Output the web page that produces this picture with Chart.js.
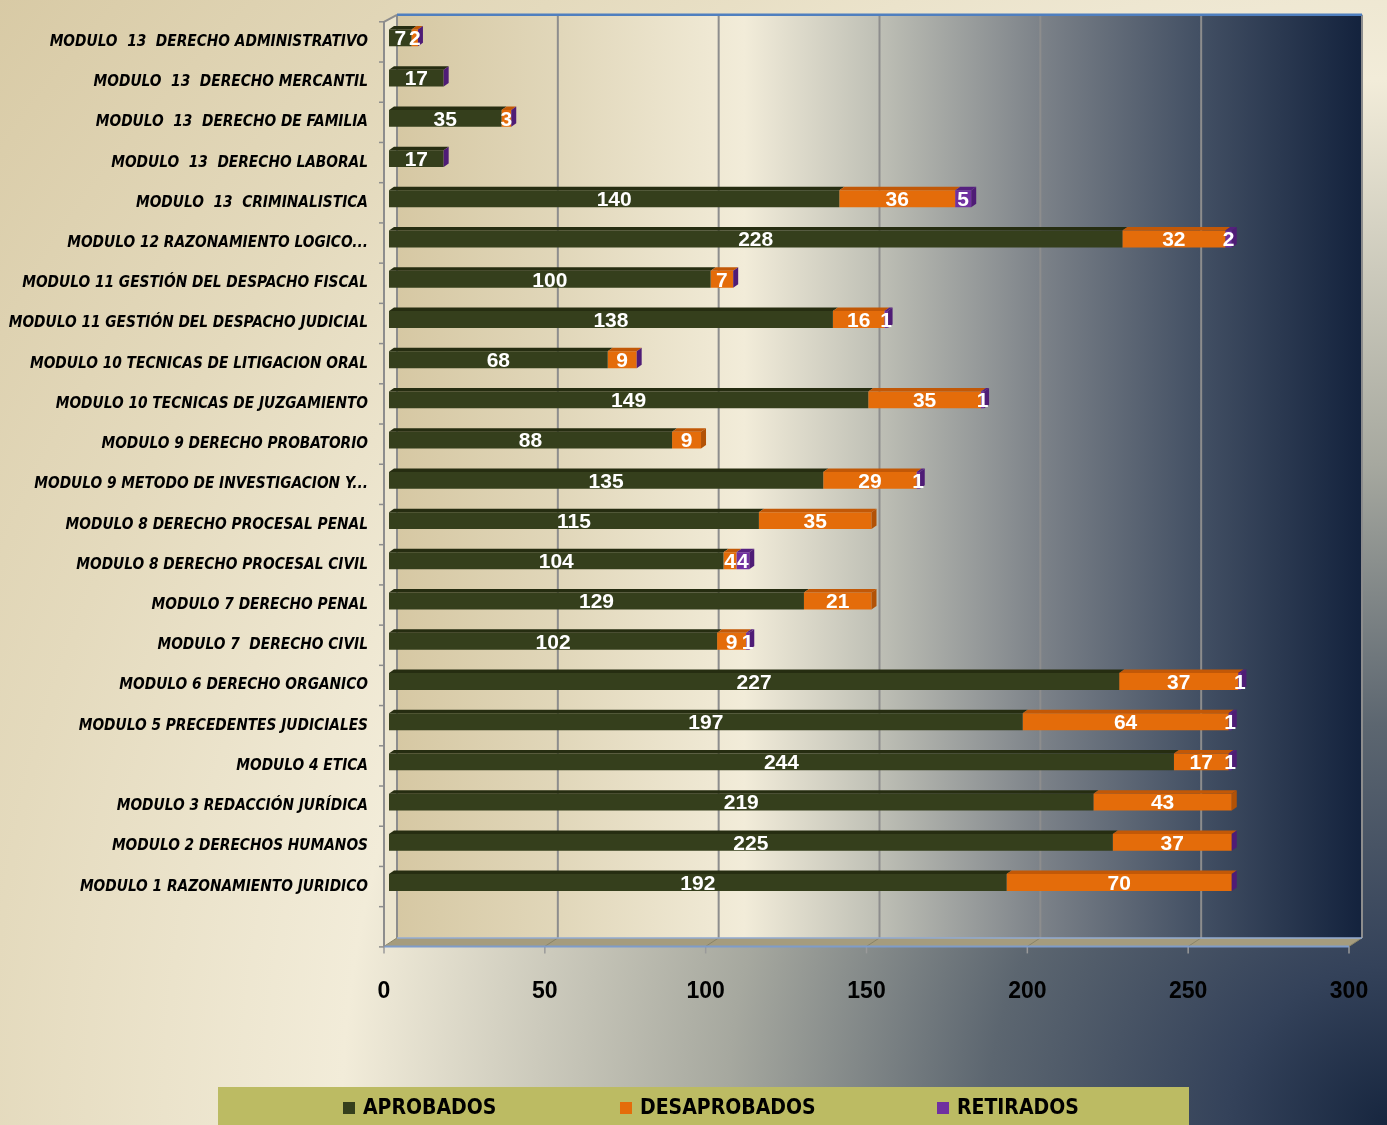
<!DOCTYPE html>
<html><head><meta charset="utf-8">
<script src="https://cdn.jsdelivr.net/npm/chart.js@4/dist/chart.umd.min.js"></script>
<style>
html,body{margin:0;padding:0;}
body{width:1387px;height:1125px;overflow:hidden;background-color:#d8caa5;
background-image:radial-gradient(circle at 100% 100%,#17263f 0px,#34425a 160px,#5c6670 400px,#a6a89f 660px,#f2ecd9 1045px,#e4dabd 1400px,#d8caa5 1790px);}
#c{display:block;}
</style></head><body>
<canvas id="c" width="1387" height="1125"></canvas>
<script>
const categories = [
  "MODULO  13  DERECHO ADMINISTRATIVO",
  "MODULO  13  DERECHO MERCANTIL",
  "MODULO  13  DERECHO DE FAMILIA",
  "MODULO  13  DERECHO LABORAL",
  "MODULO  13  CRIMINALISTICA",
  "MODULO 12 RAZONAMIENTO LOGICO...",
  "MODULO 11 GESTIÓN DEL DESPACHO FISCAL",
  "MODULO 11 GESTIÓN DEL DESPACHO JUDICIAL",
  "MODULO 10 TECNICAS DE LITIGACION ORAL",
  "MODULO 10 TECNICAS DE JUZGAMIENTO",
  "MODULO 9 DERECHO PROBATORIO",
  "MODULO 9 METODO DE INVESTIGACION Y...",
  "MODULO 8 DERECHO PROCESAL PENAL",
  "MODULO 8 DERECHO PROCESAL CIVIL",
  "MODULO 7 DERECHO PENAL",
  "MODULO 7  DERECHO CIVIL",
  "MODULO 6 DERECHO ORGANICO",
  "MODULO 5 PRECEDENTES JUDICIALES",
  "MODULO 4 ETICA",
  "MODULO 3 REDACCIÓN JURÍDICA",
  "MODULO 2 DERECHOS HUMANOS",
  "MODULO 1 RAZONAMIENTO JURIDICO",
  ""
];
const aprobados    = [7, 17, 35, 17, 140, 228, 100, 138, 68, 149, 88, 135, 115, 104, 129, 102, 227, 197, 244, 219, 225, 192, null];
const desaprobados = [2, null, 3, null, 36, 32, 7, 16, 9, 35, 9, 29, 35, 4, 21, 9, 37, 64, 17, 43, 37, 70, null];
const retirados    = [0, 0, 0, 0, 5, 2, 0, 1, 0, 1, null, 1, null, 4, null, 1, 1, 1, 1, null, 0, 0, null];
const seriesNames  = ["APROBADOS", "DESAPROBADOS", "RETIRADOS"];
const xTickValues  = [0, 50, 100, 150, 200, 250, 300];

const NARROW = "'Liberation Sans Narrow','DejaVu Sans Condensed','Open Sans',sans-serif";
const WIDE = "'Liberation Sans','Arimo','DejaVu Sans',sans-serif";
const frontColors = ['#353f1c', '#e46c0a', '#7030a0'];
const topColors   = ['#262d11', '#c25807', '#56207f'];
const sideColors  = ['#22290f', '#b25206', '#4f1c76'];

const FX = -5, FY = 3.5, BX = 8, BY = -5, DX = 5, DY = 3.5;

const wallPlugin = {
  id: 'wall',
  beforeDraw(chart) {
    const ctx = chart.ctx, a = chart.chartArea, xs = chart.scales.x;
    const L = a.left, R = a.right, T = a.top, B = a.bottom;
    const band = (B - T) / categories.length;
    ctx.save();
    const g = ctx.createLinearGradient(L + BX, 0, R + BX, 0);
    g.addColorStop(0, '#d6c8a3');
    g.addColorStop(0.17, '#e1d7ba');
    g.addColorStop(0.36, '#f2ecd9');
    g.addColorStop(0.5, '#bebfb5');
    g.addColorStop(0.67, '#7b8188');
    g.addColorStop(0.83, '#435064');
    g.addColorStop(1, '#13223d');
    ctx.fillStyle = g;
    ctx.fillRect(L + BX, T - 3, R - L, B + BY - (T - 3));
    ctx.fillStyle = '#ece5ce';
    ctx.beginPath();
    ctx.moveTo(L + FX, T + 4); ctx.lineTo(L + BX, T - 3); ctx.lineTo(L + BX, B + BY); ctx.lineTo(L + FX, B + FY);
    ctx.closePath(); ctx.fill();
    ctx.fillStyle = '#a59c7e';
    ctx.beginPath();
    ctx.moveTo(L + FX, B + FY); ctx.lineTo(L + BX, B + BY); ctx.lineTo(R + BX, B + BY); ctx.lineTo(R + FX, B + FY);
    ctx.closePath(); ctx.fill();
    xTickValues.forEach(v => {
      const px = xs.getPixelForValue(v);
      ctx.strokeStyle = '#8d8d8d'; ctx.lineWidth = 2;
      ctx.beginPath(); ctx.moveTo(px + BX, T - 3); ctx.lineTo(px + BX, B + BY); ctx.stroke();
      ctx.strokeStyle = '#8a8468'; ctx.lineWidth = 1;
      ctx.beginPath(); ctx.moveTo(px + BX, B + BY); ctx.lineTo(px + FX, B + FY); ctx.stroke();
      ctx.strokeStyle = '#9a9a9a'; ctx.lineWidth = 1.5;
      ctx.beginPath(); ctx.moveTo(px + FX, B + FY); ctx.lineTo(px + FX, B + FY + 7); ctx.stroke();
    });
    ctx.strokeStyle = '#7f9cc9'; ctx.lineWidth = 2;
    ctx.beginPath(); ctx.moveTo(L + FX, B + FY); ctx.lineTo(R + FX, B + FY); ctx.stroke();
    ctx.strokeStyle = '#93abd2'; ctx.lineWidth = 1.5;
    ctx.beginPath(); ctx.moveTo(L + BX, B + BY); ctx.lineTo(R + BX, B + BY); ctx.stroke();
    ctx.strokeStyle = '#4f7fbf'; ctx.lineWidth = 2.5;
    ctx.beginPath(); ctx.moveTo(L + BX, T - 3); ctx.lineTo(R + BX, T - 3); ctx.stroke();
    ctx.strokeStyle = '#8d8d8d'; ctx.lineWidth = 2;
    ctx.beginPath(); ctx.moveTo(L + BX, T - 3); ctx.lineTo(L + FX, T + 4); ctx.lineTo(L + FX, B + FY); ctx.stroke();
    ctx.lineWidth = 1.5;
    for (let k = 0; k <= categories.length; k++) {
      const yy = T + k * band + 4;
      ctx.beginPath(); ctx.moveTo(L + FX - 5, yy); ctx.lineTo(L + FX, yy); ctx.stroke();
    }
    ctx.restore();
  },
  afterDatasetsDraw(chart) {
    const ctx = chart.ctx;
    const dsets = chart.data.datasets;
    ctx.save();
    for (let i = 0; i < categories.length; i++) {
      let last = -1;
      dsets.forEach((ds, d) => { if (ds.data[i] !== null && ds.data[i] !== undefined) last = d; });
      dsets.forEach((ds, d) => {
        const v = ds.data[i];
        if (v === null || v === undefined) return;
        const el = chart.getDatasetMeta(d).data[i];
        const p = el.getProps(['x', 'y', 'base', 'height'], true);
        const t = p.y - p.height / 2, b = p.y + p.height / 2;
        ctx.fillStyle = topColors[d];
        ctx.beginPath();
        ctx.moveTo(p.base, t); ctx.lineTo(p.base + DX, t - DY); ctx.lineTo(p.x + DX, t - DY); ctx.lineTo(p.x, t);
        ctx.closePath(); ctx.fill();
        if (d === last) {
          ctx.fillStyle = sideColors[d];
          ctx.beginPath();
          ctx.moveTo(p.x, t); ctx.lineTo(p.x + DX, t - DY); ctx.lineTo(p.x + DX, b - DY); ctx.lineTo(p.x, b);
          ctx.closePath(); ctx.fill();
        }
      });
    }
    ctx.fillStyle = '#ffffff';
    ctx.font = 'bold 21px ' + WIDE;
    ctx.textAlign = 'center';
    ctx.textBaseline = 'middle';
    dsets.forEach((ds, d) => {
      chart.getDatasetMeta(d).data.forEach((el, i) => {
        const v = ds.data[i];
        if (!v) return;
        const p = el.getProps(['x', 'y', 'base'], true);
        ctx.fillText(String(v), (p.x + p.base) / 2, p.y + 1.5);
      });
    });
    ctx.restore();
  },
  afterDraw(chart) {
    const ctx = chart.ctx;
    ctx.save();
    ctx.fillStyle = '#bcbb63';
    ctx.fillRect(218, 1087, 971, 38);
    const mx = [343, 620, 937];
    ctx.font = 'bold 21px ' + NARROW;
    ctx.textAlign = 'left';
    ctx.textBaseline = 'middle';
    seriesNames.forEach((n, k) => {
      ctx.fillStyle = frontColors[k];
      ctx.fillRect(mx[k], 1102, 12, 12);
      ctx.fillStyle = '#000000';
      ctx.fillText(n, mx[k] + 20, 1109);
    });
    ctx.restore();
  }
};

const chart = new Chart(document.getElementById('c'), {
  type: 'bar',
  data: {
    labels: categories,
    datasets: [
      { label: seriesNames[0], data: aprobados, backgroundColor: frontColors[0] },
      { label: seriesNames[1], data: desaprobados, backgroundColor: frontColors[1] },
      { label: seriesNames[2], data: retirados, backgroundColor: frontColors[2] }
    ]
  },
  options: {
    indexAxis: 'y',
    responsive: false,
    animation: false,
    devicePixelRatio: 1,
    layout: { padding: { top: 17.8, right: 33, left: 0, bottom: 0 } },
    datasets: { bar: { barPercentage: 0.42, categoryPercentage: 1, borderWidth: 0 } },
    plugins: { legend: { display: false }, tooltip: { enabled: false } },
    scales: {
      x: {
        stacked: true, min: 0, max: 300,
        afterBuildTicks: s => { s.ticks = xTickValues.map(v => ({ value: v })); },
        afterFit: s => { s.height = 1125 - 942.9; s.paddingLeft = 0; s.paddingRight = 0; s.paddingTop = 0; s.paddingBottom = 0; },
        grid: { display: false, drawTicks: false },
        border: { display: false },
        ticks: { color: '#000', labelOffset: -5, padding: 35, font: { family: WIDE, size: 23, weight: 'bold' } }
      },
      y: {
        stacked: true,
        afterFit: s => { s.width = 389; s.paddingLeft = 0; s.paddingRight = 0; s.paddingTop = 0; s.paddingBottom = 0; },
        grid: { display: false, drawTicks: false },
        border: { display: false },
        ticks: { color: '#000', padding: 21, labelOffset: 4, autoSkip: false,
                 font: { family: NARROW, size: 15.3, style: 'italic', weight: 'bold' } }
      }
    }
  },
  plugins: [wallPlugin]
});
</script>
</body></html>
